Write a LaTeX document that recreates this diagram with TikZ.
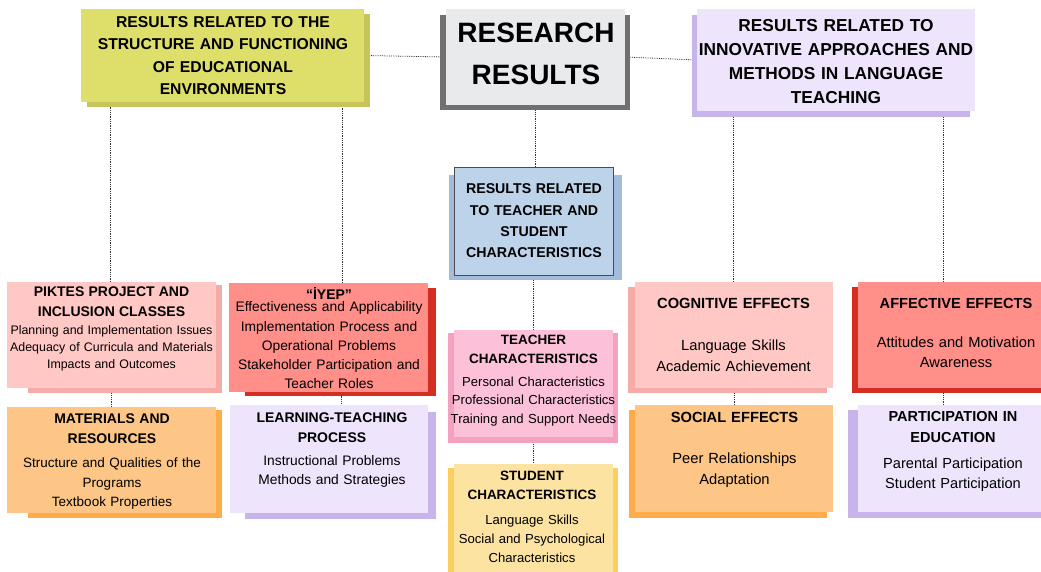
\documentclass[tikz,border=0pt]{standalone}
\usepackage{fontspec}
\setmainfont{Liberation Sans}
\usetikzlibrary{backgrounds}

\makeatletter
% bold heading lines that keep the baseline skip of the body text
\newcommand\hd[2]{{\fontsize{#1}{\f@baselineskip}\selectfont\bfseries #2}}
\makeatother

% shadow behind a box: node, colour, then left/top/right/bottom offsets of its edges
\newcommand\boxshadow[6]{%
  \fill[#2] ([xshift=#3pt,yshift=-#4pt]#1.north west) rectangle ([xshift=#5pt,yshift=-#6pt]#1.south east);}

% box faces and their shadows
\definecolor{greyface}{HTML}{E9EAEC}   \definecolor{greyshade}{HTML}{707070}
\definecolor{limeface}{HTML}{DEDE6A}   \definecolor{limeshade}{HTML}{C6C45A}
\definecolor{lilacface}{HTML}{EEE5FC}  \definecolor{lilacshade}{HTML}{C7B4EA}
\definecolor{blueface}{HTML}{BDD3EA}   \definecolor{blueshade}{HTML}{A2BCDB}
\definecolor{salmonface}{HTML}{FFC8C4} \definecolor{salmonshade}{HTML}{F5ABA6}
\definecolor{redface}{HTML}{FF8F88}    \definecolor{redshade}{HTML}{D42D21}
\definecolor{orangeface}{HTML}{FDC687} \definecolor{orangeshade}{HTML}{FFAB48}
\definecolor{pinkface}{HTML}{FCC1D8}   \definecolor{pinkshade}{HTML}{F4A1BF}
\definecolor{creamface}{HTML}{FDE3A2}  \definecolor{creamshade}{HTML}{FBCF5E}

\tikzset{
  panel/.style={rectangle, inner sep=0pt, outer sep=0pt},
  words/.style={align=center, inner sep=0pt, text width=#1},
  link/.style={densely dotted, line width=0.8pt, black!80},
}

\begin{document}
\begin{tikzpicture}[x=1pt, y=-1pt]
  \useasboundingbox (0,0) rectangle (1041,571);
  \clip (0,0) rectangle (1041,571);

  % top row
  \node[panel, fill=limeface, minimum width=283, minimum height=93] (structure) at (222.5,55.5) {};
  \node[words=300, font=\bfseries\fontsize{15.7}{22.3}\selectfont] (structure-t) at (223,55.5)
    {RESULTS RELATED TO THE\\STRUCTURE AND FUNCTIONING\\OF EDUCATIONAL\\ENVIRONMENTS};

  \node[panel, fill=greyface, minimum width=179, minimum height=96] (research) at (535.5,57) {};
  \node[words=190, font=\bfseries\fontsize{28}{42}\selectfont] (research-t) at (536,54)
    {RESEARCH\\RESULTS};

  \node[panel, fill=lilacface, minimum width=278, minimum height=102] (innovative) at (836,60) {};
  \node[words=300, font=\bfseries\fontsize{17.3}{24.3}\selectfont] (innovative-t) at (836,61.5)
    {RESULTS RELATED TO\\INNOVATIVE APPROACHES AND\\METHODS IN LANGUAGE\\TEACHING};

  % middle column
  \node[panel, fill=blueface, draw=black!70, line width=0.6pt,
        minimum width=159, minimum height=108] (people) at (533.5,221) {};
  \node[words=170, font=\bfseries\fontsize{14.2}{21.3}\selectfont] (people-t) at (534,221)
    {RESULTS RELATED\\TO TEACHER AND\\STUDENT\\CHARACTERISTICS};

  \node[panel, fill=pinkface, minimum width=159, minimum height=107] (teacher) at (533.5,383.5) {};
  \node[words=170, font=\fontsize{13.1}{18.5}\selectfont] (teacher-t) at (533.5,380.7)
    {\hd{13.5}{TEACHER\\[0.5pt]CHARACTERISTICS}\\[4pt]
     Personal Characteristics\\Professional Characteristics\\Training and Support Needs};

  \node[panel, fill=creamface, minimum width=159, minimum height=112] (student) at (533.5,520) {};
  \node[words=170, font=\fontsize{13.1}{19}\selectfont] (student-t) at (532,516.7)
    {\hd{13.5}{STUDENT\\CHARACTERISTICS}\\[6.5pt]
     Language Skills\\Social and Psychological\\Characteristics};

  % left columns
  \node[panel, fill=salmonface, minimum width=209, minimum height=106] (piktes) at (111.5,335) {};
  \node[words=220, font=\fontsize{12.4}{17}\selectfont] (piktes-t) at (111.5,329)
    {\hd{14}{PIKTES PROJECT AND\\[3pt]INCLUSION CLASSES}\\[0.5pt]
     Planning and Implementation Issues\\Adequacy of Curricula and Materials\\Impacts and Outcomes};

  \node[panel, fill=orangeface, minimum width=209, minimum height=106] (materials) at (111.5,460) {};
  \node[words=220, font=\fontsize{13.5}{19.5}\selectfont] (materials-t) at (112,461.3)
    {\hd{14}{MATERIALS AND\\[0.5pt]RESOURCES}\\[5pt]
     Structure and Qualities of the\\Programs\\Textbook Properties};

  \node[panel, fill=redface, minimum width=199, minimum height=109] (iyep) at (328.5,337.5) {};
  \node[words=210, font=\fontsize{13.8}{19.25}\selectfont] (iyep-t) at (329,338)
    {\hd{14}{“İYEP”}\\[-6.5pt]
     Effectiveness and Applicability\\Implementation Process and\\Operational Problems\\
     Stakeholder Participation and\\Teacher Roles};

  \node[panel, fill=lilacface, minimum width=198, minimum height=108] (learning) at (329,459) {};
  \node[words=210, font=\fontsize{13.8}{19}\selectfont] (learning-t) at (332,450)
    {\hd{14}{LEARNING-TEACHING\\[1pt]PROCESS}\\[4.5pt]
     Instructional Problems\\Methods and Strategies};

  % right columns
  \node[panel, fill=salmonface, minimum width=198, minimum height=106] (cognitive) at (734,335) {};
  \node[words=210, font=\fontsize{14.7}{21}\selectfont] (cognitive-t) at (733.5,335)
    {\hd{14.7}{COGNITIVE EFFECTS}\\[21pt]
     Language Skills\\Academic Achievement};

  \node[panel, fill=orangeface, minimum width=198, minimum height=107] (social) at (734,458.5) {};
  \node[words=210, font=\fontsize{14.7}{21}\selectfont] (social-t) at (734.5,449.5)
    {\hd{14.7}{SOCIAL EFFECTS}\\[20pt]
     Peer Relationships\\Adaptation};

  \node[panel, fill=redface, minimum width=196, minimum height=106] (affective) at (956,335) {};
  \node[words=210, font=\fontsize{14.7}{20}\selectfont] (affective-t) at (956,333)
    {\hd{14.6}{AFFECTIVE EFFECTS}\\[19pt]
     Attitudes and Motivation\\Awareness};

  \node[panel, fill=lilacface, minimum width=196, minimum height=107] (participation) at (956,458.5) {};
  \node[words=210, font=\fontsize{14.6}{20}\selectfont] (participation-t) at (953,451)
    {\hd{14.5}{PARTICIPATION IN\\[1pt]EDUCATION}\\[6pt]
     Parental Participation\\Student Participation};

  \begin{scope}[on background layer]
    % dotted connectors
    \draw[link] (structure.east) -- (research.west);
    \draw[link] (research.east) -- (innovative.west);
    \draw[link] (research.south) -- (research.south |- people.north);
    \draw[link] ([xshift=-1.5pt]piktes.north) -- ([xshift=-1.5pt]piktes.north |- structure.south);
    \draw[link] ([xshift=14pt]iyep.north) -- ([xshift=14pt]iyep.north |- structure.south);
    \draw[link] ([xshift=-1pt]cognitive.north) -- ([xshift=-1pt]cognitive.north |- innovative.south);
    \draw[link] ([xshift=-13pt]affective.north) -- ([xshift=-13pt]affective.north |- innovative.south);
    \draw[link] (piktes.south) -- (materials.north);
    \draw[link] ([xshift=12.5pt]iyep.south) -- ([xshift=12.5pt]iyep.south |- learning.north);
    \draw[link] (people.south) -- (teacher.north);
    \draw[link] (teacher.south) -- (student.north);
    \draw[link] (cognitive.south) -- (social.north);
    \draw[link] ([xshift=-13pt]affective.south) -- ([xshift=-13pt]affective.south |- participation.north);

    % shadows under the faces
    \boxshadow{structure}{limeshade}{6}{5}{6}{5}
    \boxshadow{research}{greyshade}{-6}{6}{5}{5}
    \boxshadow{innovative}{lilacshade}{-5}{6}{-5}{6}
    \boxshadow{people}{blueshade}{-5}{8}{9}{5}
    \boxshadow{teacher}{pinkshade}{-6}{3}{5}{6}
    \boxshadow{student}{creamshade}{-6}{4}{5}{4}
    \boxshadow{piktes}{salmonshade}{21}{3}{6}{5}
    \boxshadow{materials}{orangeshade}{21}{3}{6}{5}
    \boxshadow{iyep}{redshade}{16}{5}{8}{4}
    \boxshadow{learning}{lilacshade}{15}{7}{8}{6}
    \boxshadow{cognitive}{salmonshade}{-7}{5}{-6}{5}
    \boxshadow{social}{orangeshade}{-6}{5}{-6}{6}
    \boxshadow{affective}{redshade}{-6}{5}{-6}{5}
    \boxshadow{participation}{lilacshade}{-10}{5}{-6}{6}
  \end{scope}
\end{tikzpicture}
\end{document}
